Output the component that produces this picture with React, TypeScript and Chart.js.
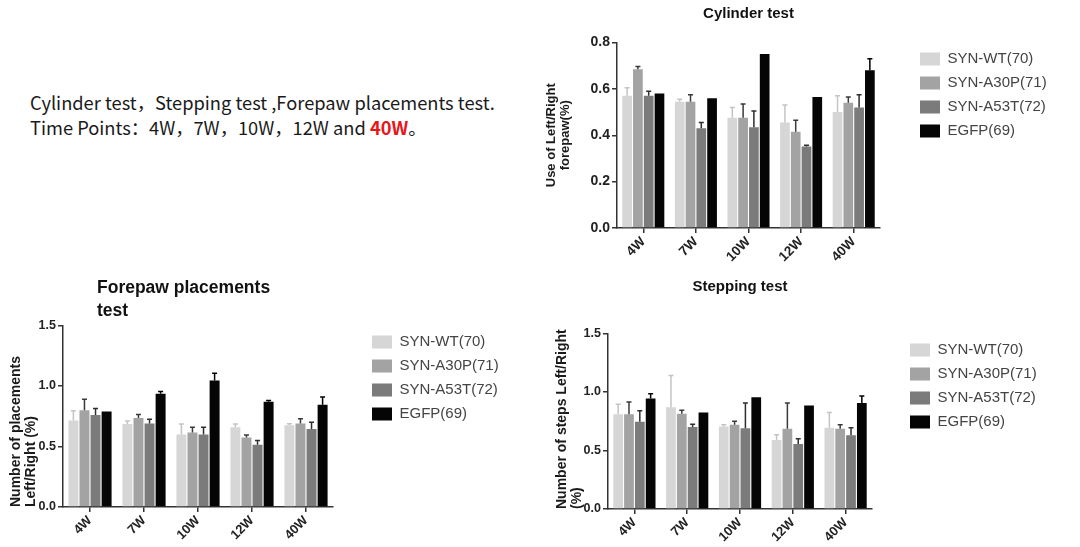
import { useEffect, useRef } from "react";
import { Chart, registerables } from "chart.js";

Chart.register(...registerables);

const weeks = ["4W", "7W", "10W", "12W", "40W"];
const groupNames = ["SYN-WT(70)", "SYN-A30P(71)", "SYN-A53T(72)", "EGFP(69)"];
const barColors = ["#d6d6d6", "#a3a3a3", "#7b7b7b", "#050505"];
const errColors = ["#c4c4c4", "#3a3a3a", "#2e2e2e", "#000000"];

// Cylinder test (mean, +SEM)
const cylinderWT = [0.57, 0.545, 0.475, 0.455, 0.5];
const cylinderA30P = [0.685, 0.545, 0.475, 0.415, 0.54];
const cylinderA53T = [0.57, 0.43, 0.435, 0.352, 0.52];
const cylinderEGFP = [0.58, 0.56, 0.75, 0.565, 0.68];
const cylinderWTErr = [0.035, 0.01, 0.045, 0.075, 0.07];
const cylinderA30PErr = [0.012, 0.03, 0.06, 0.05, 0.025];
const cylinderA53TErr = [0.02, 0.025, 0.07, 0.005, 0.055];
const cylinderEGFPErr = [0, 0, 0, 0, 0.05];
const cylinderTicks = [0, 0.2, 0.4, 0.6, 0.8];

// Forepaw placements test
const forepawWT = [0.715, 0.685, 0.6, 0.66, 0.675];
const forepawA30P = [0.8, 0.735, 0.615, 0.575, 0.69];
const forepawA53T = [0.76, 0.69, 0.6, 0.515, 0.645];
const forepawEGFP = [0.79, 0.935, 1.045, 0.87, 0.845];
const forepawWTErr = [0.08, 0.025, 0.085, 0.025, 0.012];
const forepawA30PErr = [0.09, 0.03, 0.045, 0.02, 0.04];
const forepawA53TErr = [0.055, 0.035, 0.06, 0.035, 0.055];
const forepawEGFPErr = [0, 0.02, 0.06, 0.01, 0.065];

// Stepping test
const steppingWT = [0.81, 0.87, 0.705, 0.59, 0.695];
const steppingA30P = [0.81, 0.815, 0.72, 0.685, 0.685];
const steppingA53T = [0.745, 0.7, 0.69, 0.555, 0.63];
const steppingEGFP = [0.945, 0.825, 0.955, 0.885, 0.905];
const steppingWTErr = [0.085, 0.27, 0.015, 0.045, 0.13];
const steppingA30PErr = [0.105, 0.03, 0.03, 0.22, 0.035];
const steppingA53TErr = [0.095, 0.025, 0.215, 0.045, 0.065];
const steppingEGFPErr = [0.04, 0, 0, 0, 0.06];
const placementTicks = [0, 0.5, 1.0, 1.5];

const FONT = "'Liberation Sans', Arial, sans-serif";

// draws the "+SEM" whiskers on top of each bar
const errorBars = {
    id: "errorBars",
    afterDatasetsDraw(chart: any, _args: any, opts: any) {
        const errs: number[][] = opts.errors;
        if (!errs) return;
        const { ctx } = chart;
        const y = chart.scales.y;
        ctx.save();
        ctx.lineWidth = 1.5;
        chart.data.datasets.forEach((ds: any, i: number) => {
            const meta = chart.getDatasetMeta(i);
            meta.data.forEach((bar: any, j: number) => {
                const e = errs[i][j];
                if (!e) return;
                const top = y.getPixelForValue(ds.data[j] + e);
                ctx.strokeStyle = errColors[i];
                ctx.beginPath();
                ctx.moveTo(bar.x, bar.y);
                ctx.lineTo(bar.x, top);
                ctx.moveTo(bar.x - 2.5, top);
                ctx.lineTo(bar.x + 2.5, top);
                ctx.stroke();
            });
        });
        ctx.restore();
    },
};

// legend reserves the whole right strip in the layout, then gets parked
// a fixed gap right of the plot; the title can be nudged sideways too
const placeBlocks = {
    id: "placeBlocks",
    beforeLayout(chart: any, _args: any, opts: any) {
        const lg = chart.legend;
        if (lg && !lg._reserved) {
            const fit = lg.fit.bind(lg);
            lg.fit = function () {
                fit();
                this.width = opts.reserve;
            };
            lg._reserved = true;
        }
    },
    afterLayout(chart: any, _args: any, opts: any) {
        const t = chart.titleBlock;
        if (t && opts.titleDx) {
            t.left += opts.titleDx;
            t.right += opts.titleDx;
        }
        const lg = chart.legend;
        if (lg) {
            lg.left = chart.chartArea.right + opts.legendGap;
            lg.right = chart.width;
            lg.top = chart.chartArea.top;
            lg.bottom = chart.height;
        }
    },
};

type PanelProps = {
    left: number;
    top: number;
    width: number;
    height: number;
    title: string | string[];
    titleFont: number;
    titleAlign: "start" | "center";
    titlePad: { top: number; bottom: number };
    titleDx: number;
    yTitle: string[];
    yTitleFont: number;
    yTitlePad: number;
    yTitleAlign: "start" | "center";
    tickFont: number;
    xFont: number;
    yMax: number;
    yTicks: number[];
    yWidth: number;
    plotRight: number;
    xHeight: number;
    legendGap: number;
    series: number[][];
    errors: number[][];
};

function BarPanel(p: PanelProps) {
    const canvasRef = useRef<HTMLCanvasElement | null>(null);

    useEffect(() => {
        if (!canvasRef.current) return;
        const axisColor = "#333";
        const chart = new Chart(canvasRef.current, {
            type: "bar",
            data: {
                labels: weeks,
                datasets: p.series.map((d, i) => ({
                    label: groupNames[i],
                    data: d,
                    backgroundColor: barColors[i],
                    borderWidth: 0,
                    categoryPercentage: 0.82,
                    barPercentage: 0.9,
                })),
            },
            options: {
                responsive: false,
                animation: false,
                layout: { padding: 0 },
                plugins: {
                    title: {
                        display: true,
                        text: p.title,
                        align: p.titleAlign,
                        fullSize: false,
                        color: "#111",
                        font: { family: FONT, size: p.titleFont, weight: "bold", lineHeight: 1.3 },
                        padding: p.titlePad,
                    },
                    legend: {
                        position: "right",
                        align: "start",
                        labels: {
                            boxWidth: 20,
                            boxHeight: 13,
                            padding: 9,
                            color: "#444",
                            font: { family: FONT, size: 15 },
                        },
                    },
                    tooltip: { enabled: false },
                    errorBars: { errors: p.errors },
                    placeBlocks: { titleDx: p.titleDx, legendGap: p.legendGap, reserve: p.width - p.plotRight },
                } as any,
                scales: {
                    x: {
                        offset: true,
                        grid: { drawOnChartArea: false, offset: false, tickLength: 5, color: axisColor, lineWidth: 1.5 },
                        border: { color: axisColor, width: 1.5 },
                        ticks: {
                            minRotation: 45,
                            maxRotation: 45,
                            padding: 1,
                            color: "#222",
                            font: { family: FONT, size: p.xFont, weight: "bold" },
                        },
                        afterFit: (s: any) => {
                            s.height = p.xHeight;
                        },
                    },
                    y: {
                        min: 0,
                        max: p.yMax,
                        afterBuildTicks: (s: any) => {
                            s.ticks = p.yTicks.map((v) => ({ value: v }));
                        },
                        grid: { drawOnChartArea: false, tickLength: 5, color: axisColor, lineWidth: 1.5 },
                        border: { color: axisColor, width: 1.5 },
                        ticks: {
                            padding: 2,
                            color: "#222",
                            font: { family: FONT, size: p.tickFont, weight: "bold" },
                            callback: (v: any) => Number(v).toFixed(1),
                        },
                        title: {
                            display: true,
                            text: p.yTitle,
                            align: p.yTitleAlign,
                            color: "#1a1a1a",
                            font: { family: FONT, size: p.yTitleFont, weight: "bold", lineHeight: 1.05 },
                            padding: { top: p.yTitlePad, bottom: 0 },
                        },
                        afterFit: (s: any) => {
                            s.width = p.yWidth;
                        },
                    },
                },
            },
            plugins: [errorBars, placeBlocks],
        });
        return () => chart.destroy();
    }, []);

    return (
        <canvas
            ref={canvasRef}
            width={p.width}
            height={p.height}
            style={{ position: "absolute", left: p.left, top: p.top, width: p.width, height: p.height }}
        />
    );
}

export default function App() {
    return (
        <div style={{ position: "absolute", left: 0, top: 0, width: 1080, height: 547, background: "#fff", overflow: "hidden" }}>
            <div
                style={{
                    position: "absolute",
                    left: 30,
                    top: 90,
                    fontFamily: "'Noto Sans CJK SC', 'Noto Sans', sans-serif",
                    fontSize: 18.3,
                    lineHeight: "25px",
                    color: "#1a1a1a",
                    whiteSpace: "nowrap",
                }}
            >
                <div>Cylinder test，Stepping test ,Forepaw placements test.</div>
                <div>
                    Time Points：4W，7W，10W，12W and <span style={{ color: "#e8151b", fontWeight: "bold" }}>40W</span>。
                </div>
            </div>
            <BarPanel
                left={535}
                top={0}
                width={545}
                height={270}
                title="Cylinder test"
                titleFont={15}
                titleAlign="center"
                titlePad={{ top: 4, bottom: 19 }}
                titleDx={0}
                yTitle={["Use of Left/Right", "forepaw(%)"]}
                yTitleFont={13}
                yTitlePad={10}
                yTitleAlign="center"
                tickFont={14}
                xFont={13.5}
                yMax={0.8}
                yTicks={cylinderTicks}
                yWidth={82}
                plotRight={345}
                xHeight={42}
                legendGap={31}
                series={[cylinderWT, cylinderA30P, cylinderA53T, cylinderEGFP]}
                errors={[cylinderWTErr, cylinderA30PErr, cylinderA53TErr, cylinderEGFPErr]}
            />
            <BarPanel
                left={0}
                top={270}
                width={540}
                height={277}
                title={["Forepaw placements", "test"]}
                titleFont={17.5}
                titleAlign="start"
                titlePad={{ top: 7, bottom: 3 }}
                titleDx={34}
                yTitle={["Number of placements", "Left/Right (%)"]}
                yTitleFont={14}
                yTitlePad={9}
                yTitleAlign="start"
                tickFont={12.5}
                xFont={13}
                yMax={1.5}
                yTicks={placementTicks}
                yWidth={63}
                plotRight={333}
                xHeight={40}
                legendGap={30}
                series={[forepawWT, forepawA30P, forepawA53T, forepawEGFP]}
                errors={[forepawWTErr, forepawA30PErr, forepawA53TErr, forepawEGFPErr]}
            />
            <BarPanel
                left={545}
                top={270}
                width={535}
                height={277}
                title="Stepping test"
                titleFont={15}
                titleAlign="center"
                titlePad={{ top: 7, bottom: 37 }}
                titleDx={0}
                yTitle={["Number of steps Left/Right", "(%)"]}
                yTitleFont={14}
                yTitlePad={10}
                yTitleAlign="start"
                tickFont={12.5}
                xFont={13}
                yMax={1.5}
                yTicks={placementTicks}
                yWidth={63}
                plotRight={327}
                xHeight={38}
                legendGap={29}
                series={[steppingWT, steppingA30P, steppingA53T, steppingEGFP]}
                errors={[steppingWTErr, steppingA30PErr, steppingA53TErr, steppingEGFPErr]}
            />
        </div>
    );
}
